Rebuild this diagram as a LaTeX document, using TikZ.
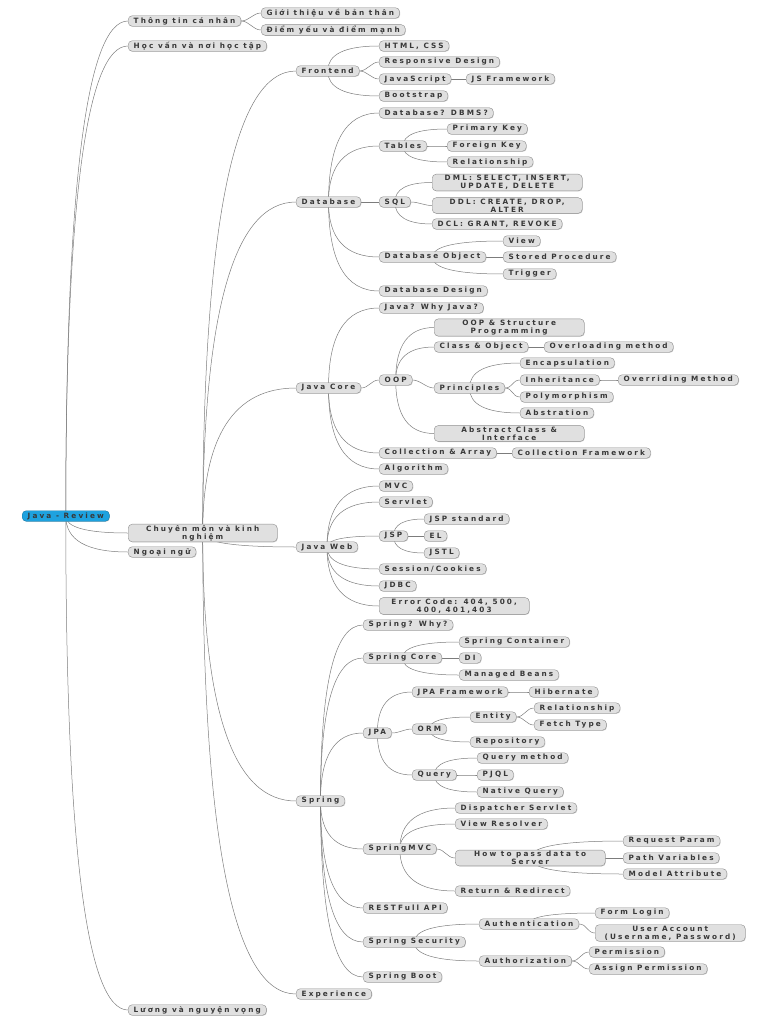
\documentclass[tikz,border=0pt]{standalone}
\usepackage{fontspec}
\newfontfamily\mapfont[LetterSpace=29]{DejaVu Sans}
\usetikzlibrary{calc,backgrounds,shadows}
\definecolor{topicfill}{HTML}{E0E0E0}
\definecolor{topicline}{HTML}{8E8E8E}
\definecolor{linkgray}{HTML}{7C7C7C}
\definecolor{rootblue}{HTML}{1EA2DF}
\definecolor{textgray}{HTML}{383838}

\begin{document}
\begin{tikzpicture}[x=1pt,y=-1pt,
  topic/.style={draw=topicline,fill=topicfill,rounded corners=4pt,anchor=west,
    font=\mapfont\bfseries\fontsize{7.3}{7.8}\selectfont,text=textgray,
    inner xsep=5.5pt,inner ysep=1.2pt,minimum height=10.5pt,
    drop shadow={shadow xshift=.6pt,shadow yshift=-.6pt,fill=black!35}},
  wide/.style={topic,align=center,minimum width=#1},
  root/.style={topic,fill=rootblue,draw=rootblue!75!black},
  branch/.style={to path={(\tikztostart.center)
    .. controls ($(\tikztostart.center)!.667!(\tikztostart.center |- \tikztotarget.west)$)
    and ($(\tikztotarget.west)!.667!(\tikztostart.center |- \tikztotarget.west)$)
    .. (\tikztotarget.west)}},
  side/.style={to path={(\tikztostart.east) .. controls +(8,0) and +(-8,0) .. (\tikztotarget.west)}},
  every edge/.style={draw=linkgray,line width=.5pt}]
  \useasboundingbox (0,0) rectangle (768,1024);

  % first level
  \node[root] (root) at (22,516) {Java - Review};
  \node[topic] (info) at (128,21) {Thông tin cá nhân};
  \node[topic] (intro) at (261,13) {Giới thiệu về bản thân};
  \node[topic] (swot) at (261,30) {Điểm yếu và điểm mạnh};
  \node[topic] (edu) at (128,46) {Học vấn và nơi học tập};
  \node[wide=149pt] (skill) at (128,533) {Chuyên môn và kinh\\nghiệm};
  \node[topic] (lang) at (128,552) {Ngoại ngữ};
  \node[topic] (wish) at (128,1010) {Lương và nguyện vọng};

  % second level
  \node[topic] (fe) at (296,71) {Frontend};
  \node[topic] (db) at (296,202) {Database};
  \node[topic] (core) at (296,388) {Java Core};
  \node[topic] (web) at (296,547) {Java Web};
  \node[topic] (spring) at (296,801) {Spring};
  \node[topic] (exp) at (296,994) {Experience};

  % frontend
  \node[topic] (html) at (379,46) {HTML, CSS};
  \node[topic] (resp) at (379,62) {Responsive Design};
  \node[topic] (js) at (379,79) {JavaScript};
  \node[topic] (jsfw) at (466,79) {JS Framework};
  \node[topic] (boot) at (379,96) {Bootstrap};

  % database
  \node[topic] (dbms) at (379,113) {Database? DBMS?};
  \node[topic] (tables) at (379,146) {Tables};
  \node[topic] (pk) at (447,129) {Primary Key};
  \node[topic] (fk) at (447,146) {Foreign Key};
  \node[topic] (rel) at (447,162) {Relationship};
  \node[topic] (sql) at (379,202) {SQL};
  \node[wide=150pt] (dml) at (432,182.5) {DML: SELECT, INSERT,\\UPDATE, DELETE};
  \node[wide=150pt] (ddl) at (432,205.5) {DDL: CREATE, DROP,\\ALTER};
  \node[topic] (dcl) at (432,224) {DCL: GRANT, REVOKE};
  \node[topic] (dbobj) at (379,257) {Database Object};
  \node[topic] (view) at (503,241) {View};
  \node[topic] (proc) at (503,257) {Stored Procedure};
  \node[topic] (trig) at (503,274) {Trigger};
  \node[topic] (dbdes) at (379,291) {Database Design};

  % java core
  \node[topic] (why) at (379,308) {Java? Why Java?};
  \node[topic] (oop) at (379,380) {OOP};
  \node[wide=150pt] (struct) at (434,327.5) {OOP \& Structure\\Programming};
  \node[topic] (cls) at (434,347) {Class \& Object};
  \node[topic] (overload) at (544,347) {Overloading method};
  \node[topic] (princ) at (434,388) {Principles};
  \node[topic] (enc) at (520,363) {Encapsulation};
  \node[topic] (inh) at (520,380) {Inheritance};
  \node[topic] (override) at (618,380) {Overriding Method};
  \node[topic] (poly) at (520,397) {Polymorphism};
  \node[topic] (abst) at (520,413) {Abstration};
  \node[wide=150pt] (absclass) at (434,433.5) {Abstract Class \&\\Interface};
  \node[topic] (coll) at (379,453) {Collection \& Array};
  \node[topic] (collfw) at (512,453) {Collection Framework};
  \node[topic] (algo) at (379,469) {Algorithm};

  % java web
  \node[topic] (mvc) at (379,486) {MVC};
  \node[topic] (servlet) at (379,502) {Servlet};
  \node[topic] (jsp) at (379,536) {JSP};
  \node[topic] (jspstd) at (424,519) {JSP standard};
  \node[topic] (el) at (424,536) {EL};
  \node[topic] (jstl) at (424,553) {JSTL};
  \node[topic] (session) at (379,569) {Session/Cookies};
  \node[topic] (jdbc) at (379,586) {JDBC};
  \node[wide=150pt] (error) at (379,606) {Error Code: 404, 500,\\400, 401,403};

  % spring
  \node[topic] (swhy) at (363,625) {Spring? Why?};
  \node[topic] (score) at (363,658) {Spring Core};
  \node[topic] (cont) at (459,642) {Spring Container};
  \node[topic] (di) at (459,658) {DI};
  \node[topic] (beans) at (459,675) {Managed Beans};
  \node[topic] (jpa) at (363,733) {JPA};
  \node[topic] (jpafw) at (412,692) {JPA Framework};
  \node[topic] (hib) at (529,692) {Hibernate};
  \node[topic] (orm) at (412,729) {ORM};
  \node[topic] (entity) at (470,717) {Entity};
  \node[topic] (erel) at (534,708) {Relationship};
  \node[topic] (fetch) at (534,725) {Fetch Type};
  \node[topic] (repo) at (470,742) {Repository};
  \node[topic] (query) at (412,775) {Query};
  \node[topic] (qmeth) at (477,758) {Query method};
  \node[topic] (pjql) at (477,775) {PJQL};
  \node[topic] (native) at (477,792) {Native Query};
  \node[topic] (smvc) at (363,849) {SpringMVC};
  \node[topic] (disp) at (455,808) {Dispatcher Servlet};
  \node[topic] (resolver) at (455,824) {View Resolver};
  \node[wide=150pt] (pass) at (455,858) {How to pass data to\\Server};
  \node[topic] (param) at (623,841) {Request Param};
  \node[topic] (pathvar) at (623,858) {Path Variables};
  \node[topic] (model) at (623,874) {Model Attribute};
  \node[topic] (redirect) at (455,891) {Return \& Redirect};
  \node[topic] (rest) at (363,908) {RESTFull API};
  \node[topic] (sec) at (363,942) {Spring Security};
  \node[topic] (authn) at (479,924) {Authentication};
  \node[topic] (form) at (595,913) {Form Login};
  \node[wide=150pt] (account) at (595,933) {User Account\\(Username, Password)};
  \node[topic] (authz) at (479,961) {Authorization};
  \node[topic] (perm) at (589,952) {Permission};
  \node[topic] (assign) at (589,969) {Assign Permission};
  \node[topic] (sboot) at (363,977) {Spring Boot};

  \begin{scope}[on background layer]
  \path[branch] (root) edge (info) edge (edu) edge (skill) edge (lang) edge (wish)
    (info) edge[side] (intro) edge[side] (swot)
    (skill) edge (fe) edge (db) edge (core) edge (web) edge (spring) edge (exp)
    (fe) edge (html) edge[side] (resp) edge[side] (js) edge (boot)
    (js) edge[side] (jsfw)
    (db) edge (dbms) edge (tables) edge[side] (sql) edge (dbobj) edge (dbdes)
    (tables) edge (pk) edge[side] (fk) edge (rel)
    (sql) edge (dml) edge[side] (ddl) edge (dcl)
    (dbobj) edge (view) edge[side] (proc) edge (trig)
    (core) edge (why) edge[side] (oop) edge (coll) edge (algo)
    (oop) edge (struct) edge (cls) edge[side] (princ) edge (absclass)
    (cls) edge[side] (overload)
    (princ) edge (enc) edge[side] (inh) edge[side] (poly) edge (abst)
    (inh) edge[side] (override)
    (coll) edge[side] (collfw)
    (web) edge (mvc) edge (servlet) edge (jsp) edge (session) edge (jdbc) edge (error)
    (jsp) edge (jspstd) edge[side] (el) edge (jstl)
    (spring) edge (swhy) edge (score) edge (jpa) edge (smvc) edge (rest) edge (sec) edge (sboot)
    (score) edge (cont) edge[side] (di) edge (beans)
    (jpa) edge (jpafw) edge[side] (orm) edge (query)
    (jpafw) edge[side] (hib)
    (orm) edge (entity) edge (repo)
    (entity) edge[side] (erel) edge[side] (fetch)
    (query) edge (qmeth) edge[side] (pjql) edge (native)
    (smvc) edge (disp) edge (resolver) edge[side] (pass) edge (redirect)
    (pass) edge (param) edge[side] (pathvar) edge (model)
    (sec) edge (authn) edge (authz)
    (authn) edge (form) edge[side] (account)
    (authz) edge[side] (perm) edge[side] (assign);
  \end{scope}
\end{tikzpicture}
\end{document}
